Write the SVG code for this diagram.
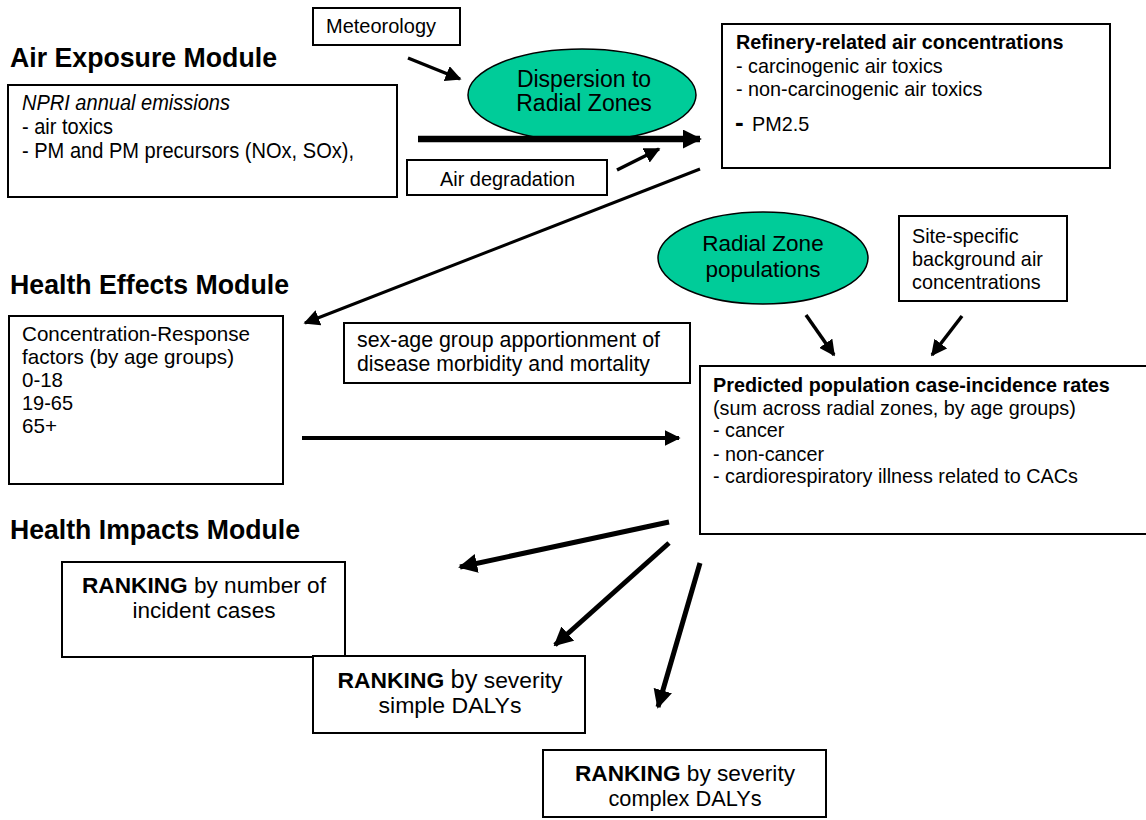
<svg xmlns="http://www.w3.org/2000/svg" width="1146" height="820" viewBox="0 0 1146 820">
<style>
text{font-family:"Liberation Sans",Arial,sans-serif;fill:#000}
.box{fill:#fff;stroke:#000;stroke-width:2}
.ell{fill:#00CC99;stroke:#000;stroke-width:1.5}
.title{font-size:27px;font-weight:bold}
.r{font-size:19.8px}
.b{font-weight:bold}
.c{stroke:#000;fill:none}
</style>
<defs>
<marker id="ahS" viewBox="0 0 10 10" refX="9" refY="5" markerWidth="16" markerHeight="16" orient="auto" markerUnits="userSpaceOnUse">
<path d="M0,0L10,5L0,10z" fill="#000"/>
</marker>
<marker id="ahL" viewBox="0 0 10 10" refX="9" refY="5" markerWidth="19" markerHeight="19" orient="auto" markerUnits="userSpaceOnUse">
<path d="M0,0L10,5L0,10z" fill="#000"/>
</marker>
</defs>

<text class="title" x="10" y="67" textLength="267" lengthAdjust="spacingAndGlyphs">Air Exposure Module</text>
<text class="title" x="10" y="294" textLength="279" lengthAdjust="spacingAndGlyphs">Health Effects Module</text>
<text class="title" x="10" y="539" textLength="290" lengthAdjust="spacingAndGlyphs">Health Impacts Module</text>

<g id="meteorology">
<rect class="box" x="313" y="8" width="147" height="37"/>
<text x="326" y="33" font-size="20" textLength="110" lengthAdjust="spacingAndGlyphs">Meteorology</text>
</g>

<g id="dispersion">
<ellipse class="ell" cx="582" cy="95" rx="114" ry="46"/>
<text x="584" y="87" text-anchor="middle" font-size="23">Dispersion to</text>
<text x="584" y="111" text-anchor="middle" font-size="23">Radial Zones</text>
</g>

<g id="refinery">
<rect class="box" x="722" y="24" width="388" height="144"/>
<text class="r b" x="736" y="49">Refinery-related air concentrations</text>
<text class="r" x="736" y="73">- carcinogenic air toxics</text>
<text class="r" x="736" y="96">- non-carcinogenic air toxics</text>
<text x="735" y="131" font-size="26" font-weight="bold">-</text>
<text class="r" x="752" y="131">PM2.5</text>
</g>

<g id="npri">
<rect class="box" x="8" y="85" width="389" height="112"/>
<text x="22" y="110" font-size="22" font-style="italic" textLength="208" lengthAdjust="spacingAndGlyphs">NPRI annual emissions</text>
<text x="22" y="134" font-size="22" textLength="91" lengthAdjust="spacingAndGlyphs">- air toxics</text>
<text x="22" y="158" font-size="22" textLength="332" lengthAdjust="spacingAndGlyphs">- PM and PM precursors (NOx, SOx),</text>
</g>

<g id="airdeg">
<rect class="box" x="407" y="160" width="200" height="35"/>
<text x="440" y="186" font-size="20" textLength="135" lengthAdjust="spacingAndGlyphs">Air degradation</text>
</g>

<g id="radialpop">
<ellipse class="ell" cx="763" cy="258" rx="105" ry="46"/>
<text x="763" y="251" text-anchor="middle" font-size="22.5">Radial Zone</text>
<text x="763" y="277" text-anchor="middle" font-size="22.5">populations</text>
</g>

<g id="sitebg">
<rect class="box" x="899" y="216" width="168" height="85"/>
<text class="r" x="912" y="243">Site-specific</text>
<text class="r" x="912" y="266">background air</text>
<text class="r" x="912" y="289">concentrations</text>
</g>

<g id="crfactors">
<rect class="box" x="9" y="316" width="274" height="168"/>
<text x="22" y="341" font-size="21" textLength="228" lengthAdjust="spacingAndGlyphs">Concentration-Response</text>
<text x="22" y="364" font-size="21" textLength="212" lengthAdjust="spacingAndGlyphs">factors (by age groups)</text>
<text x="22" y="387" font-size="21" textLength="41" lengthAdjust="spacingAndGlyphs">0-18</text>
<text x="22" y="410" font-size="21" textLength="51" lengthAdjust="spacingAndGlyphs">19-65</text>
<text x="22" y="433" font-size="21" textLength="35" lengthAdjust="spacingAndGlyphs">65+</text>
</g>

<g id="sexage">
<rect class="box" x="344" y="323" width="346" height="60"/>
<text x="357" y="347" font-size="22" textLength="303" lengthAdjust="spacingAndGlyphs">sex-age group apportionment of</text>
<text x="357" y="371" font-size="22" textLength="293" lengthAdjust="spacingAndGlyphs">disease morbidity and mortality</text>
</g>

<g id="predicted">
<rect class="box" x="700" y="366" width="460" height="168"/>
<text class="r b" x="713" y="392">Predicted population case-incidence rates</text>
<text class="r" x="713" y="415">(sum across radial zones, by age groups)</text>
<text class="r" x="713" y="437">- cancer</text>
<text class="r" x="713" y="461">- non-cancer</text>
<text class="r" x="713" y="483">- cardiorespiratory illness related to CACs</text>
</g>

<g id="rank1">
<rect class="box" x="62" y="562" width="283" height="95"/>
<text x="204" y="593" text-anchor="middle" font-size="22.5" textLength="244" lengthAdjust="spacingAndGlyphs"><tspan font-weight="bold">RANKING</tspan> by number of</text>
<text x="204" y="618" text-anchor="middle" font-size="22.5" textLength="143" lengthAdjust="spacingAndGlyphs">incident cases</text>
</g>

<g id="rank2">
<rect class="box" x="313" y="656" width="272" height="77"/>
<text x="450" y="688" text-anchor="middle" font-size="22.5" textLength="225" lengthAdjust="spacingAndGlyphs"><tspan font-weight="bold">RANKING</tspan> <tspan font-size="25">by</tspan> severity</text>
<text x="450" y="713" text-anchor="middle" font-size="22" textLength="143" lengthAdjust="spacingAndGlyphs">simple DALYs</text>
</g>

<g id="rank3">
<rect class="box" x="543" y="750" width="283" height="67"/>
<text x="685" y="781" text-anchor="middle" font-size="22" textLength="220" lengthAdjust="spacingAndGlyphs"><tspan font-weight="bold">RANKING</tspan> by severity</text>
<text x="685" y="806" text-anchor="middle" font-size="22" textLength="153" lengthAdjust="spacingAndGlyphs">complex DALYs</text>
</g>

<g id="connectors">
<line class="c" x1="408" y1="58" x2="460" y2="79" stroke-width="3.5" marker-end="url(#ahS)"/>
<line class="c" x1="418" y1="139" x2="700" y2="139" stroke-width="6.5" marker-end="url(#ahL)"/>
<line class="c" x1="617" y1="170" x2="659" y2="149" stroke-width="3.5" marker-end="url(#ahS)"/>
<line class="c" x1="700" y1="169" x2="305" y2="323" stroke-width="3" marker-end="url(#ahS)"/>
<line class="c" x1="806" y1="315" x2="834" y2="355" stroke-width="3.5" marker-end="url(#ahS)"/>
<line class="c" x1="962" y1="316" x2="932" y2="355" stroke-width="3.5" marker-end="url(#ahS)"/>
<line class="c" x1="302" y1="438" x2="679" y2="438" stroke-width="4" marker-end="url(#ahS)"/>
<line class="c" x1="669" y1="522" x2="460" y2="567" stroke-width="5" marker-end="url(#ahL)"/>
<line class="c" x1="669" y1="543" x2="555" y2="645" stroke-width="5" marker-end="url(#ahL)"/>
<line class="c" x1="700" y1="563" x2="658" y2="707" stroke-width="5" marker-end="url(#ahL)"/>
</g>
</svg>
